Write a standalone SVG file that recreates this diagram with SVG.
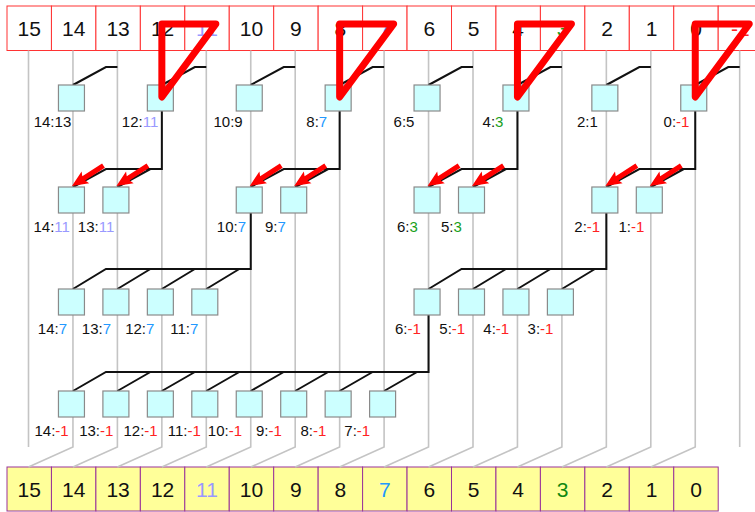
<svg xmlns="http://www.w3.org/2000/svg" xmlns:xlink="http://www.w3.org/1999/xlink" width="755" height="512" viewBox="0 0 755 512">
<style>
  text { font-family: "Liberation Sans", Arial, sans-serif; fill: #111; }
  .cell { font-size: 21px; text-anchor: middle; }
  .top rect { fill: #ffffff; stroke: #ff3333; stroke-width: 1; }
  .bot rect { fill: #ffff99; stroke: #993399; stroke-width: 1; }
  .box rect { fill: #ccffff; stroke: #8a8a8a; stroke-width: 1.2; }
  .lbl { font-size: 15px; }
  .gray { fill: none; stroke: #c4c4c4; stroke-width: 1.6; }
  .blk { fill: none; stroke: #111; stroke-width: 2; }
  .tri { fill: none; stroke: #ff0000; stroke-width: 7; stroke-linejoin: round; }
  .arr { fill: #ff0000; }
  .c11 { fill: #9999ff; }
  .c7 { fill: #2299ff; }
  .c3 { fill: #1aa01a; }
  .c3d { fill: #118811; }
  .cm1 { fill: #ff2222; }
</style>
<defs>
  <path id="arrow" class="arr" d="M0,0 L-16,-7 L-14,-2.6 L-37.5,-2.6 L-37.5,2.6 L-14,2.6 L-16,7 Z"/>
</defs>

<!-- top row -->
<g id="top-row" class="top">
  <rect x="7" y="6" width="44.45" height="44.5"/><text class="cell" x="29.2" y="36">15</text>
  <rect x="51.45" y="6" width="44.45" height="44.5"/><text class="cell" x="73.7" y="36">14</text>
  <rect x="95.9" y="6" width="44.45" height="44.5"/><text class="cell" x="118.1" y="36">13</text>
  <rect x="140.35" y="6" width="44.45" height="44.5"/><text class="cell" x="162.6" y="36">12</text>
  <rect x="184.8" y="6" width="44.45" height="44.5"/><text class="cell c11" x="207" y="36">11</text>
  <rect x="229.25" y="6" width="44.45" height="44.5"/><text class="cell" x="251.5" y="36">10</text>
  <rect x="273.7" y="6" width="44.45" height="44.5"/><text class="cell" x="295.9" y="36">9</text>
  <rect x="318.15" y="6" width="44.45" height="44.5"/><text class="cell" x="340.4" y="36">8</text>
  <rect x="362.6" y="6" width="44.45" height="44.5"/><text class="cell c7" x="384.8" y="36">7</text>
  <rect x="407.05" y="6" width="44.45" height="44.5"/><text class="cell" x="429.3" y="36">6</text>
  <rect x="451.5" y="6" width="44.45" height="44.5"/><text class="cell" x="473.7" y="36">5</text>
  <rect x="495.95" y="6" width="44.45" height="44.5"/><text class="cell" x="518.2" y="36">4</text>
  <rect x="540.4" y="6" width="44.45" height="44.5"/><text class="cell c3" x="562.6" y="36">3</text>
  <rect x="584.85" y="6" width="44.45" height="44.5"/><text class="cell" x="607.1" y="36">2</text>
  <rect x="629.3" y="6" width="44.45" height="44.5"/><text class="cell" x="651.5" y="36">1</text>
  <rect x="673.75" y="6" width="44.45" height="44.5"/><text class="cell" x="696" y="36">0</text>
  <rect x="718.2" y="6" width="44.45" height="44.5"/><text class="cell cm1" x="740.4" y="36">-1</text>
</g>

<!-- bottom row -->
<g id="bottom-row" class="bot">
  <rect x="7" y="467" width="44.45" height="44"/><text class="cell" x="29.2" y="497">15</text>
  <rect x="51.45" y="467" width="44.45" height="44"/><text class="cell" x="73.7" y="497">14</text>
  <rect x="95.9" y="467" width="44.45" height="44"/><text class="cell" x="118.1" y="497">13</text>
  <rect x="140.35" y="467" width="44.45" height="44"/><text class="cell" x="162.6" y="497">12</text>
  <rect x="184.8" y="467" width="44.45" height="44"/><text class="cell c11" x="207" y="497">11</text>
  <rect x="229.25" y="467" width="44.45" height="44"/><text class="cell" x="251.5" y="497">10</text>
  <rect x="273.7" y="467" width="44.45" height="44"/><text class="cell" x="295.9" y="497">9</text>
  <rect x="318.15" y="467" width="44.45" height="44"/><text class="cell" x="340.4" y="497">8</text>
  <rect x="362.6" y="467" width="44.45" height="44"/><text class="cell c7" x="384.8" y="497">7</text>
  <rect x="407.05" y="467" width="44.45" height="44"/><text class="cell" x="429.3" y="497">6</text>
  <rect x="451.5" y="467" width="44.45" height="44"/><text class="cell" x="473.7" y="497">5</text>
  <rect x="495.95" y="467" width="44.45" height="44"/><text class="cell" x="518.2" y="497">4</text>
  <rect x="540.4" y="467" width="44.45" height="44"/><text class="cell c3d" x="562.6" y="497">3</text>
  <rect x="584.85" y="467" width="44.45" height="44"/><text class="cell" x="607.1" y="497">2</text>
  <rect x="629.3" y="467" width="44.45" height="44"/><text class="cell" x="651.5" y="497">1</text>
  <rect x="673.75" y="467" width="44.45" height="44"/><text class="cell" x="696" y="497">0</text>
</g>

<!-- connectors -->
<g id="connectors">
  <path class="gray" d="M28.5,50.5 V447 M72.95,50.5 V447 L28.5,467 M117.4,50.5 V447 L72.95,467 M161.85,50.5 V447 L117.4,467 M206.3,50.5 V447 L161.85,467 M250.75,50.5 V447 L206.3,467 M295.2,50.5 V447 L250.75,467 M339.65,50.5 V447 L295.2,467 M384.1,50.5 V447 L339.65,467 M428.55,50.5 V447 L384.1,467 M473,50.5 V447 L428.55,467 M517.45,50.5 V447 L473,467 M561.9,50.5 V447 L517.45,467 M606.35,50.5 V447 L561.9,467 M650.8,50.5 V447 L606.35,467 M695.25,50.5 V447 L650.8,467 M739.7,50.5 V447"/>
  <path class="blk" d="M117.4,67 H105.95 L72.95,85 M206.3,67 H194.85 L161.85,85 M295.2,67 H283.75 L250.75,85 M384.1,67 H372.65 L339.65,85 M473,67 H461.55 L428.55,85 M561.9,67 H550.45 L517.45,85 M650.8,67 H639.35 L606.35,85 M739.7,67 H728.25 L695.25,85"/>
  <path class="blk" d="M161.85,111 V169 H105.95 L72.95,187 M150.4,169 L117.4,187 M339.65,111 V169 H283.75 L250.75,187 M328.2,169 L295.2,187 M517.45,111 V169 H461.55 L428.55,187 M506,169 L473,187 M695.25,111 V169 H639.35 L606.35,187 M683.8,169 L650.8,187"/>
  <path class="blk" d="M250.75,213 V269 H105.95 L72.95,289 M150.4,269 L117.4,289 M194.85,269 L161.85,289 M239.3,269 L206.3,289 M606.35,213 V269 H461.55 L428.55,289 M506,269 L473,289 M550.45,269 L517.45,289 M594.9,269 L561.9,289"/>
  <path class="blk" d="M428.55,315 V372 H105.95 L72.95,391 M150.4,372 L117.4,391 M194.85,372 L161.85,391 M239.3,372 L206.3,391 M283.75,372 L250.75,391 M328.2,372 L295.2,391 M372.65,372 L339.65,391 M417.1,372 L384.1,391"/>
</g>

<!-- level 1 nodes -->
<g id="n1-14" class="box"><rect x="58.45" y="85" width="26" height="26"/><text class="lbl" x="33.7" y="127">14:13</text></g>
<g id="n1-12" class="box"><rect x="147.35" y="85" width="26" height="26"/><text class="lbl" x="121.8" y="127">12:<tspan class="c11">11</tspan></text></g>
<g id="n1-10" class="box"><rect x="236.25" y="85" width="26" height="26"/><text class="lbl" x="213.5" y="127">10:9</text></g>
<g id="n1-8" class="box"><rect x="325.15" y="85" width="26" height="26"/><text class="lbl" x="306.3" y="127">8:<tspan class="c7">7</tspan></text></g>
<g id="n1-6" class="box"><rect x="414.05" y="85" width="26" height="26"/><text class="lbl" x="393.6" y="127">6:5</text></g>
<g id="n1-4" class="box"><rect x="502.95" y="85" width="26" height="26"/><text class="lbl" x="482.6" y="127">4:<tspan class="c3">3</tspan></text></g>
<g id="n1-2" class="box"><rect x="591.85" y="85" width="26" height="26"/><text class="lbl" x="577" y="127">2:1</text></g>
<g id="n1-0" class="box"><rect x="680.75" y="85" width="26" height="26"/><text class="lbl" x="663.6" y="127">0:<tspan class="cm1">-1</tspan></text></g>

<!-- level 2 nodes -->
<g id="n2-14" class="box"><rect x="58.45" y="187" width="26" height="26"/><text class="lbl" x="33.5" y="232">14:<tspan class="c11">11</tspan></text></g>
<g id="n2-13" class="box"><rect x="102.9" y="187" width="26" height="26"/><text class="lbl" x="77.8" y="232">13:<tspan class="c11">11</tspan></text></g>
<g id="n2-10" class="box"><rect x="236.25" y="187" width="26" height="26"/><text class="lbl" x="216.8" y="232">10:<tspan class="c7">7</tspan></text></g>
<g id="n2-9" class="box"><rect x="280.7" y="187" width="26" height="26"/><text class="lbl" x="265" y="232">9:<tspan class="c7">7</tspan></text></g>
<g id="n2-6" class="box"><rect x="414.05" y="187" width="26" height="26"/><text class="lbl" x="397" y="232">6:<tspan class="c3">3</tspan></text></g>
<g id="n2-5" class="box"><rect x="458.5" y="187" width="26" height="26"/><text class="lbl" x="441" y="232">5:<tspan class="c3">3</tspan></text></g>
<g id="n2-2" class="box"><rect x="591.85" y="187" width="26" height="26"/><text class="lbl" x="574.3" y="232">2:<tspan class="cm1">-1</tspan></text></g>
<g id="n2-1" class="box"><rect x="636.3" y="187" width="26" height="26"/><text class="lbl" x="618.5" y="232">1:<tspan class="cm1">-1</tspan></text></g>

<!-- level 3 nodes -->
<g id="n3-14" class="box"><rect x="58.45" y="289" width="26" height="26"/><text class="lbl" x="37.8" y="334">14:<tspan class="c7">7</tspan></text></g>
<g id="n3-13" class="box"><rect x="102.9" y="289" width="26" height="26"/><text class="lbl" x="81.8" y="334">13:<tspan class="c7">7</tspan></text></g>
<g id="n3-12" class="box"><rect x="147.35" y="289" width="26" height="26"/><text class="lbl" x="125.2" y="334">12:<tspan class="c7">7</tspan></text></g>
<g id="n3-11" class="box"><rect x="191.8" y="289" width="26" height="26"/><text class="lbl" x="170.2" y="334">11:<tspan class="c7">7</tspan></text></g>
<g id="n3-6" class="box"><rect x="414.05" y="289" width="26" height="26"/><text class="lbl" x="395" y="334">6:<tspan class="cm1">-1</tspan></text></g>
<g id="n3-5" class="box"><rect x="458.5" y="289" width="26" height="26"/><text class="lbl" x="439.3" y="334">5:<tspan class="cm1">-1</tspan></text></g>
<g id="n3-4" class="box"><rect x="502.95" y="289" width="26" height="26"/><text class="lbl" x="483.3" y="334">4:<tspan class="cm1">-1</tspan></text></g>
<g id="n3-3" class="box"><rect x="547.4" y="289" width="26" height="26"/><text class="lbl" x="527.6" y="334">3:<tspan class="cm1">-1</tspan></text></g>

<!-- level 4 nodes -->
<g id="n4-14" class="box"><rect x="58.45" y="391" width="26" height="26"/><text class="lbl" x="34.5" y="436">14:<tspan class="cm1">-1</tspan></text></g>
<g id="n4-13" class="box"><rect x="102.9" y="391" width="26" height="26"/><text class="lbl" x="79.2" y="436">13:<tspan class="cm1">-1</tspan></text></g>
<g id="n4-12" class="box"><rect x="147.35" y="391" width="26" height="26"/><text class="lbl" x="123.5" y="436">12:<tspan class="cm1">-1</tspan></text></g>
<g id="n4-11" class="box"><rect x="191.8" y="391" width="26" height="26"/><text class="lbl" x="167.8" y="436">11:<tspan class="cm1">-1</tspan></text></g>
<g id="n4-10" class="box"><rect x="236.25" y="391" width="26" height="26"/><text class="lbl" x="207.8" y="436">10:<tspan class="cm1">-1</tspan></text></g>
<g id="n4-9" class="box"><rect x="280.7" y="391" width="26" height="26"/><text class="lbl" x="256" y="436">9:<tspan class="cm1">-1</tspan></text></g>
<g id="n4-8" class="box"><rect x="325.15" y="391" width="26" height="26"/><text class="lbl" x="300.4" y="436">8:<tspan class="cm1">-1</tspan></text></g>
<g id="n4-7" class="box"><rect x="369.6" y="391" width="26" height="26"/><text class="lbl" x="344.3" y="436">7:<tspan class="cm1">-1</tspan></text></g>

<!-- red annotation arrows -->
<g id="arrows">
  <use xlink:href="#arrow" transform="translate(71.95,186) rotate(147.2)"/>
  <use xlink:href="#arrow" transform="translate(116.4,186) rotate(147.2)"/>
  <use xlink:href="#arrow" transform="translate(249.75,186) rotate(147.2)"/>
  <use xlink:href="#arrow" transform="translate(294.2,186) rotate(147.2)"/>
  <use xlink:href="#arrow" transform="translate(427.55,186) rotate(147.2)"/>
  <use xlink:href="#arrow" transform="translate(472,186) rotate(147.2)"/>
  <use xlink:href="#arrow" transform="translate(605.35,186) rotate(147.2)"/>
  <use xlink:href="#arrow" transform="translate(649.8,186) rotate(147.2)"/>
</g>

<!-- red annotation triangles -->
<g id="triangles">
  <polygon class="tri" points="161.85,24 215.85,24 161.85,97"/>
  <polygon class="tri" points="339.65,24 393.65,24 339.65,97"/>
  <polygon class="tri" points="517.45,24 571.45,24 517.45,97"/>
  <polygon class="tri" points="695.25,24 749.25,24 695.25,97"/>
</g>
</svg>
